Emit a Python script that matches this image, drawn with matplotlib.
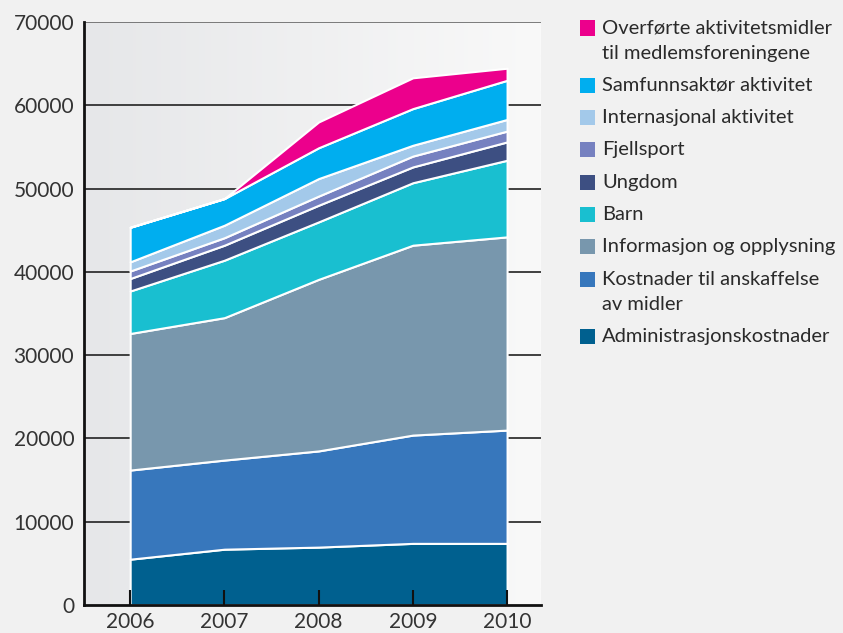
import matplotlib
matplotlib.use('Agg')

import matplotlib.pyplot as plt
import numpy as np
from matplotlib.patches import Rectangle

plt.rcParams['font.family'] = ['Lato', 'DejaVu Sans']

years = [2006, 2007, 2008, 2009, 2010]

# bottom to top of the stack
labels = ['Administrasjonskostnader',
          'Kostnader til anskaffelse\nav midler',
          'Informasjon og opplysning',
          'Barn',
          'Ungdom',
          'Fjellsport',
          'Internasjonal aktivitet',
          'Samfunnsaktør aktivitet',
          'Overførte aktivitetsmidler\ntil medlemsforeningene']

admin = [5500, 6700, 6950, 7400, 7400]
kostnader = [10700, 10700, 11550, 13000, 13600]
informasjon = [16400, 17100, 20600, 22800, 23200]
barn = [5100, 6900, 6900, 7500, 9200]
ungdom = [1500, 1800, 2000, 1900, 2200]
fjellsport = [900, 900, 1100, 1300, 1300]
internasjonal = [1100, 1500, 2100, 1300, 1400]
samfunn = [4150, 3200, 3700, 4400, 4700]
overforte = [0, 0, 3100, 3700, 1450]

colors = ['#00608f', '#3777bc', '#7897ad', '#19bfd0', '#3d4f82',
          '#7681c0', '#a3c9ea', '#00aeef', '#ec008c']

W, H = 843, 633
fig = plt.figure(figsize=(W / 100, H / 100), dpi=100, facecolor='#f1f1f1')
ax = fig.add_axes([84 / W, 28 / H, 457 / W, 583 / H])

# soft grey-to-white gradient behind the plot
grad = np.linspace(0, 1, 256).reshape(1, -1)
ax.imshow(grad, extent=[0, 1, 0, 1], transform=ax.transAxes, aspect='auto',
          cmap=matplotlib.colors.LinearSegmentedColormap.from_list('bg', ['#e6e7e9', '#f9f9f9']),
          zorder=0)

for v in range(10000, 70001, 10000):
    ax.axhline(v, color='#222222' if v != 70000 else '#666666', lw=1.2, zorder=0.5)

ax.stackplot(years, admin, kostnader, informasjon, barn, ungdom, fjellsport,
             internasjonal, samfunn, overforte, colors=colors,
             edgecolor='white', linewidth=1.5, zorder=1)

ax.set_xlim(2005.51, 2010.36)
ax.set_ylim(0, 70000)
ax.set_xticks(years)
ax.set_yticks(range(0, 70001, 10000))
ax.tick_params(axis='x', direction='in', length=11, width=1.5, color='#111111',
               labelsize=15, labelcolor='#333333', pad=5)
ax.tick_params(axis='y', length=0, labelsize=15, labelcolor='#333333', pad=7)

for s in ['top', 'right']:
    ax.spines[s].set_visible(False)
for s in ['left', 'bottom']:
    ax.spines[s].set_linewidth(2)
    ax.spines[s].set_color('#111111')

# legend, top layer first
y = 28
for lab, c in zip(labels[::-1], colors[::-1]):
    fig.add_artist(Rectangle((580 / W, 1 - (y + 7.5) / H), 15 / W, 15 / H,
                             transform=fig.transFigure, facecolor=c, edgecolor='none'))
    for i, line in enumerate(lab.split('\n')):
        fig.text(602 / W, 1 - (y + 25 * i) / H, line, fontsize=14.5, color='#2a2a2a',
                 va='center', ha='left')
    y += 32.3 + 25 * lab.count('\n')

fig.savefig('out.png', dpi=100, facecolor=fig.get_facecolor())
